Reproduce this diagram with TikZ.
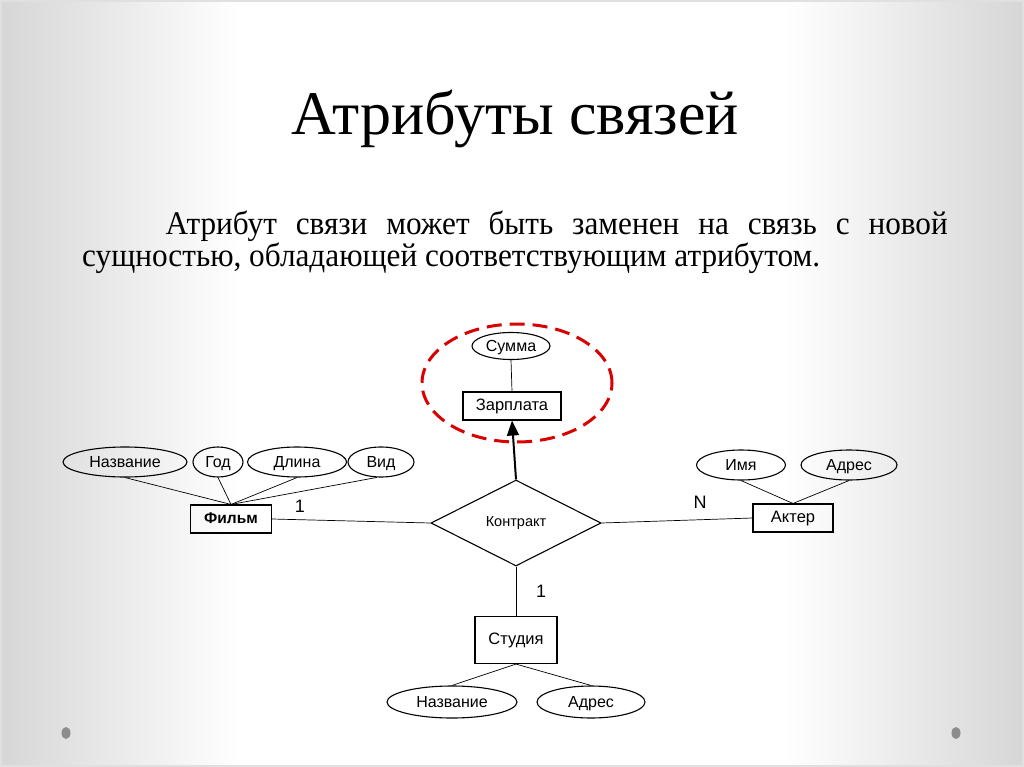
\documentclass[tikz,border=0pt]{standalone}
\usepackage{fontspec}
\setmainfont{Liberation Serif}
\newfontfamily\diagfont{Liberation Sans}
\usetikzlibrary{shapes.geometric, arrows.meta, positioning}

\begin{document}
\begin{tikzpicture}[
      x=1pt, y=-1pt,
      attr/.style={ellipse, draw, line width=1.1pt, inner sep=0pt, minimum height=30pt, text height=11pt, text depth=1pt, font=\diagfont\fontsize{16}{18}\selectfont},
      ent/.style={rectangle, draw, line width=1.1pt, inner sep=0pt, minimum height=28pt, text height=11pt, text depth=2pt, font=\diagfont\fontsize{16.5}{18}\selectfont},
      rel/.style={diamond, draw, line width=1.1pt, inner sep=0pt, minimum width=170pt, minimum height=86pt, font=\diagfont\fontsize{14.5}{16}\selectfont},
      card/.style={inner sep=0pt, font=\diagfont\fontsize{18}{20}\selectfont},
      link/.style={line width=0.7pt},
      arrow/.style={-{Triangle[length=15pt, width=12pt]}, line width=2pt},
      hl/.style={draw=red!85!black, dash pattern=on 15pt off 8pt, line width=3pt}
    ]
    \useasboundingbox (0,0) rectangle (1024,767);

    % slide background
    \fill[white] (0,0) rectangle (1024,767);
    \shade[left color=black!16, right color=white] (0,0) rectangle (240,767);
    \shade[left color=white, right color=black!16] (784,0) rectangle (1024,767);
    \draw[black!12, line width=2pt] (1,1) rectangle (1023,766);
    \fill[black!45] (66,733) ellipse [x radius=4.5pt, y radius=6pt];
    \fill[black!45] (956,733) ellipse [x radius=4.5pt, y radius=6pt];

    \node[font=\fontsize{62}{70}\selectfont] (title) at (515,119) {Атрибуты связей};
    \node[inner sep=0pt, font=\fontsize{33}{32}\selectfont] (intro) at (515,242)
      {\scalebox{0.947}[1]{\parbox{914pt}{\hspace*{88pt}Атрибут связи может быть заменен на связь с новой\linebreak
       сущностью, обладающей соответствующим атрибутом.}}};

    % relationship and its new entity
    \node[rel] (contract) at (516,523) {Контракт};
    \node[ent, minimum width=98pt] (salary) at (512,406) {Зарплата};
    \node[attr, minimum width=78pt, minimum height=27pt] (sum) at (511,346) {Сумма};
    \node[hl, ellipse, minimum width=190pt, minimum height=118pt] (focus) at (517,383) {};

    % Фильм
    \node[ent, minimum width=81pt, font=\diagfont\bfseries\fontsize{15.5}{18}\selectfont] (film) at (231,519) {Фильм};
    \node[attr, minimum width=124pt] (ftitle) at (125,462) {Название};
    \node[attr, minimum width=50pt] (year) at (218,462) {Год};
    \node[attr, minimum width=99pt] (length) at (297,462) {Длина};
    \node[attr, minimum width=66pt] (kind) at (381,462) {Вид};

    % Актер
    \node[ent, minimum width=80pt] (actor) at (793,518) {Актер};
    \node[attr, minimum width=89pt] (name) at (741,465) {Имя};
    \node[attr, minimum width=96pt] (addr) at (849,465) {Адрес};

    % Студия
    \node[ent, minimum width=82pt, minimum height=47pt] (studio) at (516,640) {Студия};
    \node[attr, minimum width=130pt, minimum height=32pt] (stitle) at (452,702) {Название};
    \node[attr, minimum width=108pt, minimum height=32pt] (saddr) at (591,702) {Адрес};

    \node[card] (c1) at (300,506) {1};
    \node[card] (cN) at (700,502) {N};
    \node[card] (c2) at (541,591) {1};

    \draw[link] (ftitle.south) -- (film.north);
    \draw[link] (year.south) -- (film.north);
    \draw[link] (length.south) -- (film.north);
    \draw[link] (kind.255) -- (film.north);
    \draw[link] (name.south) -- (actor.north);
    \draw[link] (addr.south) -- (actor.north);
    \draw[link] (studio.south) -- (stitle.north);
    \draw[link] (studio.south) -- (saddr.north);
    \draw[link] (sum.south) -- (salary.north);

    \draw[link] (film.east) -- (contract.west);
    \draw[link] (contract.east) -- (actor.west);
    \draw[link] (contract.south) -- (studio.north);
    \draw[arrow] (contract.north) -- (salary.south);
  \end{tikzpicture}
\end{document}
